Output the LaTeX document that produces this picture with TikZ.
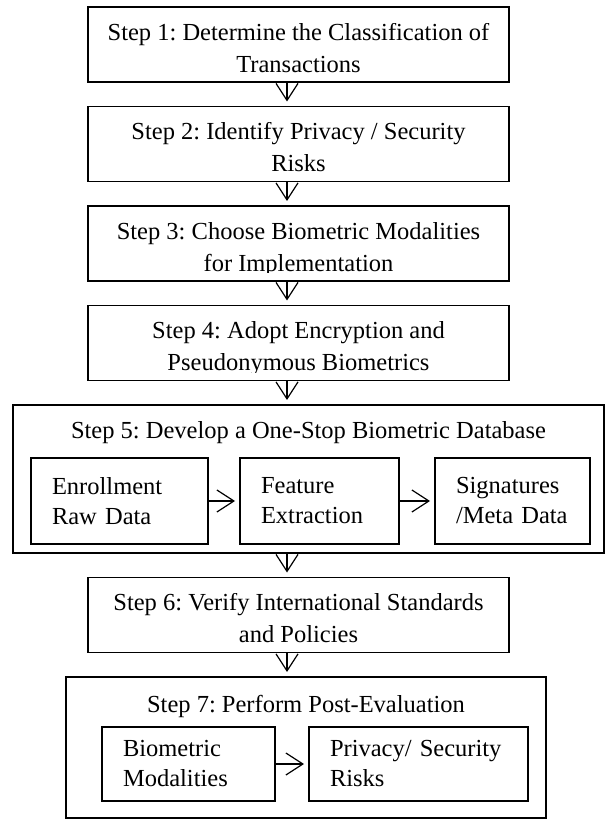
\documentclass[tikz,border=0pt]{standalone}
\usepackage{fontspec}
\setmainfont{Liberation Serif}
\usepackage{trimclip}
\usetikzlibrary{arrows.meta,positioning}
\frenchspacing
% two centred lines; whatever hangs below the last baseline is cut off
\newcommand{\steplines}[2]{\clipbox{0pt 4.2pt 0pt 0pt}{\parbox[b]{206pt}{\centering #1\\#2\strut}}}

\begin{document}
\begin{tikzpicture}[
  font=\fontsize{12.25pt}{16pt}\selectfont,
  stepbox/.style={draw,line width=0.8pt,minimum width=210.5pt,minimum height=37.5pt,
                  inner sep=0pt,outer sep=0pt,text height=28.5pt},
  groupbox/.style={draw,line width=0.8pt,inner sep=0pt,outer sep=0pt},
  inbox/.style={draw,line width=0.8pt,minimum height=43pt,inner xsep=10.5pt,inner ysep=0pt,
                outer sep=0pt,align=left,font=\fontsize{12.25pt}{15pt}\selectfont},
  a/.style={-{Straight Barb[length=8.5pt,width=11pt]},line width=0.6pt,shorten >=2.5pt}
]
\useasboundingbox (0,0) rectangle (303.5pt,-411pt);
\coordinate (axis) at (143.5pt,0);

\node[stepbox] (s1) at (149.25pt,-22.25pt)
  {\steplines{Step 1: Determine the Classification of}{Transactions}};
\node[stepbox,below=12.25pt of s1] (s2)
  {\steplines{Step 2: Identify Privacy / Security}{Risks}};
\node[stepbox,below=12.25pt of s2] (s3)
  {\steplines{Step 3: Choose Biometric Modalities}{for Implementation}};
\node[stepbox,below=12.25pt of s3] (s4)
  {\steplines{Step 4: Adopt Encryption and}{Pseudonymous Biometrics}};

% step 5 holds the three database stages
\node[groupbox,minimum width=295.5pt,minimum height=74pt,below=12.25pt of s4,xshift=5pt] (s5) {};
\node[anchor=base] (s5t) at ([yshift=-16.5pt]s5.north) {Step 5: Develop a One-Stop Biometric Database};
\node[inbox,text width=67.5pt,anchor=west] (enroll) at ([xshift=9pt,yshift=-11pt]s5.west) {Enrollment\\Raw Data};
\node[inbox,text width=58.5pt,right=16pt of enroll] (feature) {Feature\\Extraction};
\node[inbox,text width=56.5pt,right=18pt of feature] (sigs) {Signatures\\/Meta Data};

\node[stepbox,below=12.25pt of s5,xshift=-5pt] (s6)
  {\steplines{Step 6: Verify International Standards}{and Policies}};

% step 7 holds the post-evaluation pair
\node[groupbox,minimum width=240pt,minimum height=70.5pt,below=12.25pt of s6,xshift=3.75pt] (s7) {};
\node[anchor=base] (s7t) at ([yshift=-17.5pt]s7.north) {Step 7: Perform Post-Evaluation};
\node[inbox,minimum height=37pt,text width=65.5pt,anchor=west] (modal) at ([xshift=18pt,yshift=-8.25pt]s7.west) {Biometric\\Modalities};
\node[inbox,minimum height=37pt,text width=88.5pt,right=17pt of modal] (risks) {Privacy/ Security\\Risks};

\draw[a] (s1.south -| axis) -- (s2.north -| axis);
\draw[a] (s2.south -| axis) -- (s3.north -| axis);
\draw[a] (s3.south -| axis) -- (s4.north -| axis);
\draw[a] (s4.south -| axis) -- (s5.north -| axis);
\draw[a] (s5.south -| axis) -- (s6.north -| axis);
\draw[a] (s6.south -| axis) -- (s7.north -| axis);
\draw[a] (enroll) -- (feature);
\draw[a] (feature) -- (sigs);
\draw[a] (modal) -- (risks);
\end{tikzpicture}
\end{document}
